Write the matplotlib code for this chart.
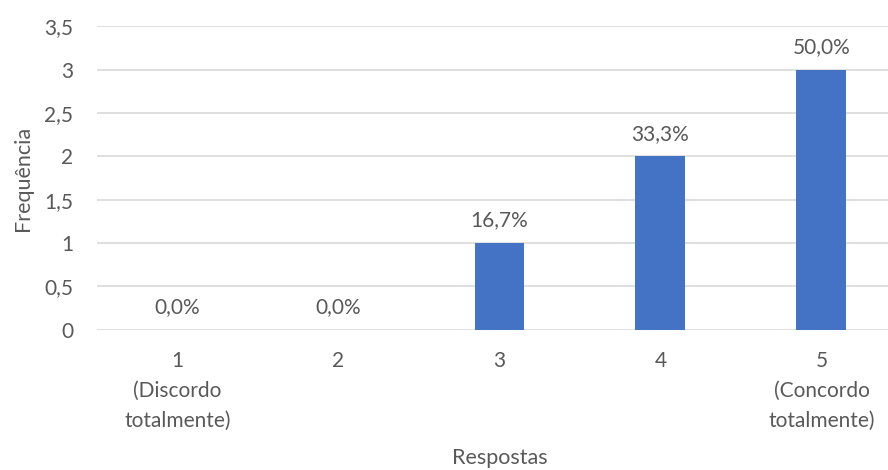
import matplotlib.pyplot as plt

categorias = ["1\n(Discordo\ntotalmente)", "2", "3", "4", "5\n(Concordo\ntotalmente)"]
frequencia = [0, 0, 1, 2, 3]
percentuais = ["0,0%", "0,0%", "16,7%", "33,3%", "50,0%"]
yticks = [0, 0.5, 1, 1.5, 2, 2.5, 3, 3.5]
yticklabels = ["0", "0,5", "1", "1,5", "2", "2,5", "3", "3,5"]

cinza = "#595959"
plt.rcParams['font.family'] = ['Lato', 'DejaVu Sans']

fig = plt.figure(figsize=(8.88, 4.7), dpi=100)
ax = fig.add_axes([0.1092, 0.2985, 0.9065, 0.6453])

x = list(range(len(categorias)))
barras = ax.bar(x, frequencia, width=0.31, color="#4472C4", zorder=3)

for xi, v, txt in zip(x, frequencia, percentuais):
    ax.annotate(txt, (xi, v), xytext=(0, 9), textcoords="offset points",
                ha="center", va="bottom", fontsize=15, color=cinza)

ax.set_xlim(-0.5, 4.5)
ax.set_ylim(0, 3.5)
ax.set_yticks(yticks)
ax.set_yticklabels(yticklabels)
ax.set_xticks(x)
ax.set_xticklabels(categorias, linespacing=1.65)
ax.tick_params(axis="both", length=0, colors=cinza, labelsize=15)
ax.tick_params(axis="x", pad=15)
ax.tick_params(axis="y", pad=17)
ax.grid(axis="y", color="#d9d9d9", linewidth=1.2, zorder=0)
for s in ax.spines.values():
    s.set_visible(False)

ax.set_ylabel("Frequência", fontsize=15.5, color=cinza, labelpad=8)
ax.set_xlabel("Respostas", fontsize=15.5, color=cinza, labelpad=12)

fig.savefig("out.png", dpi=100)
